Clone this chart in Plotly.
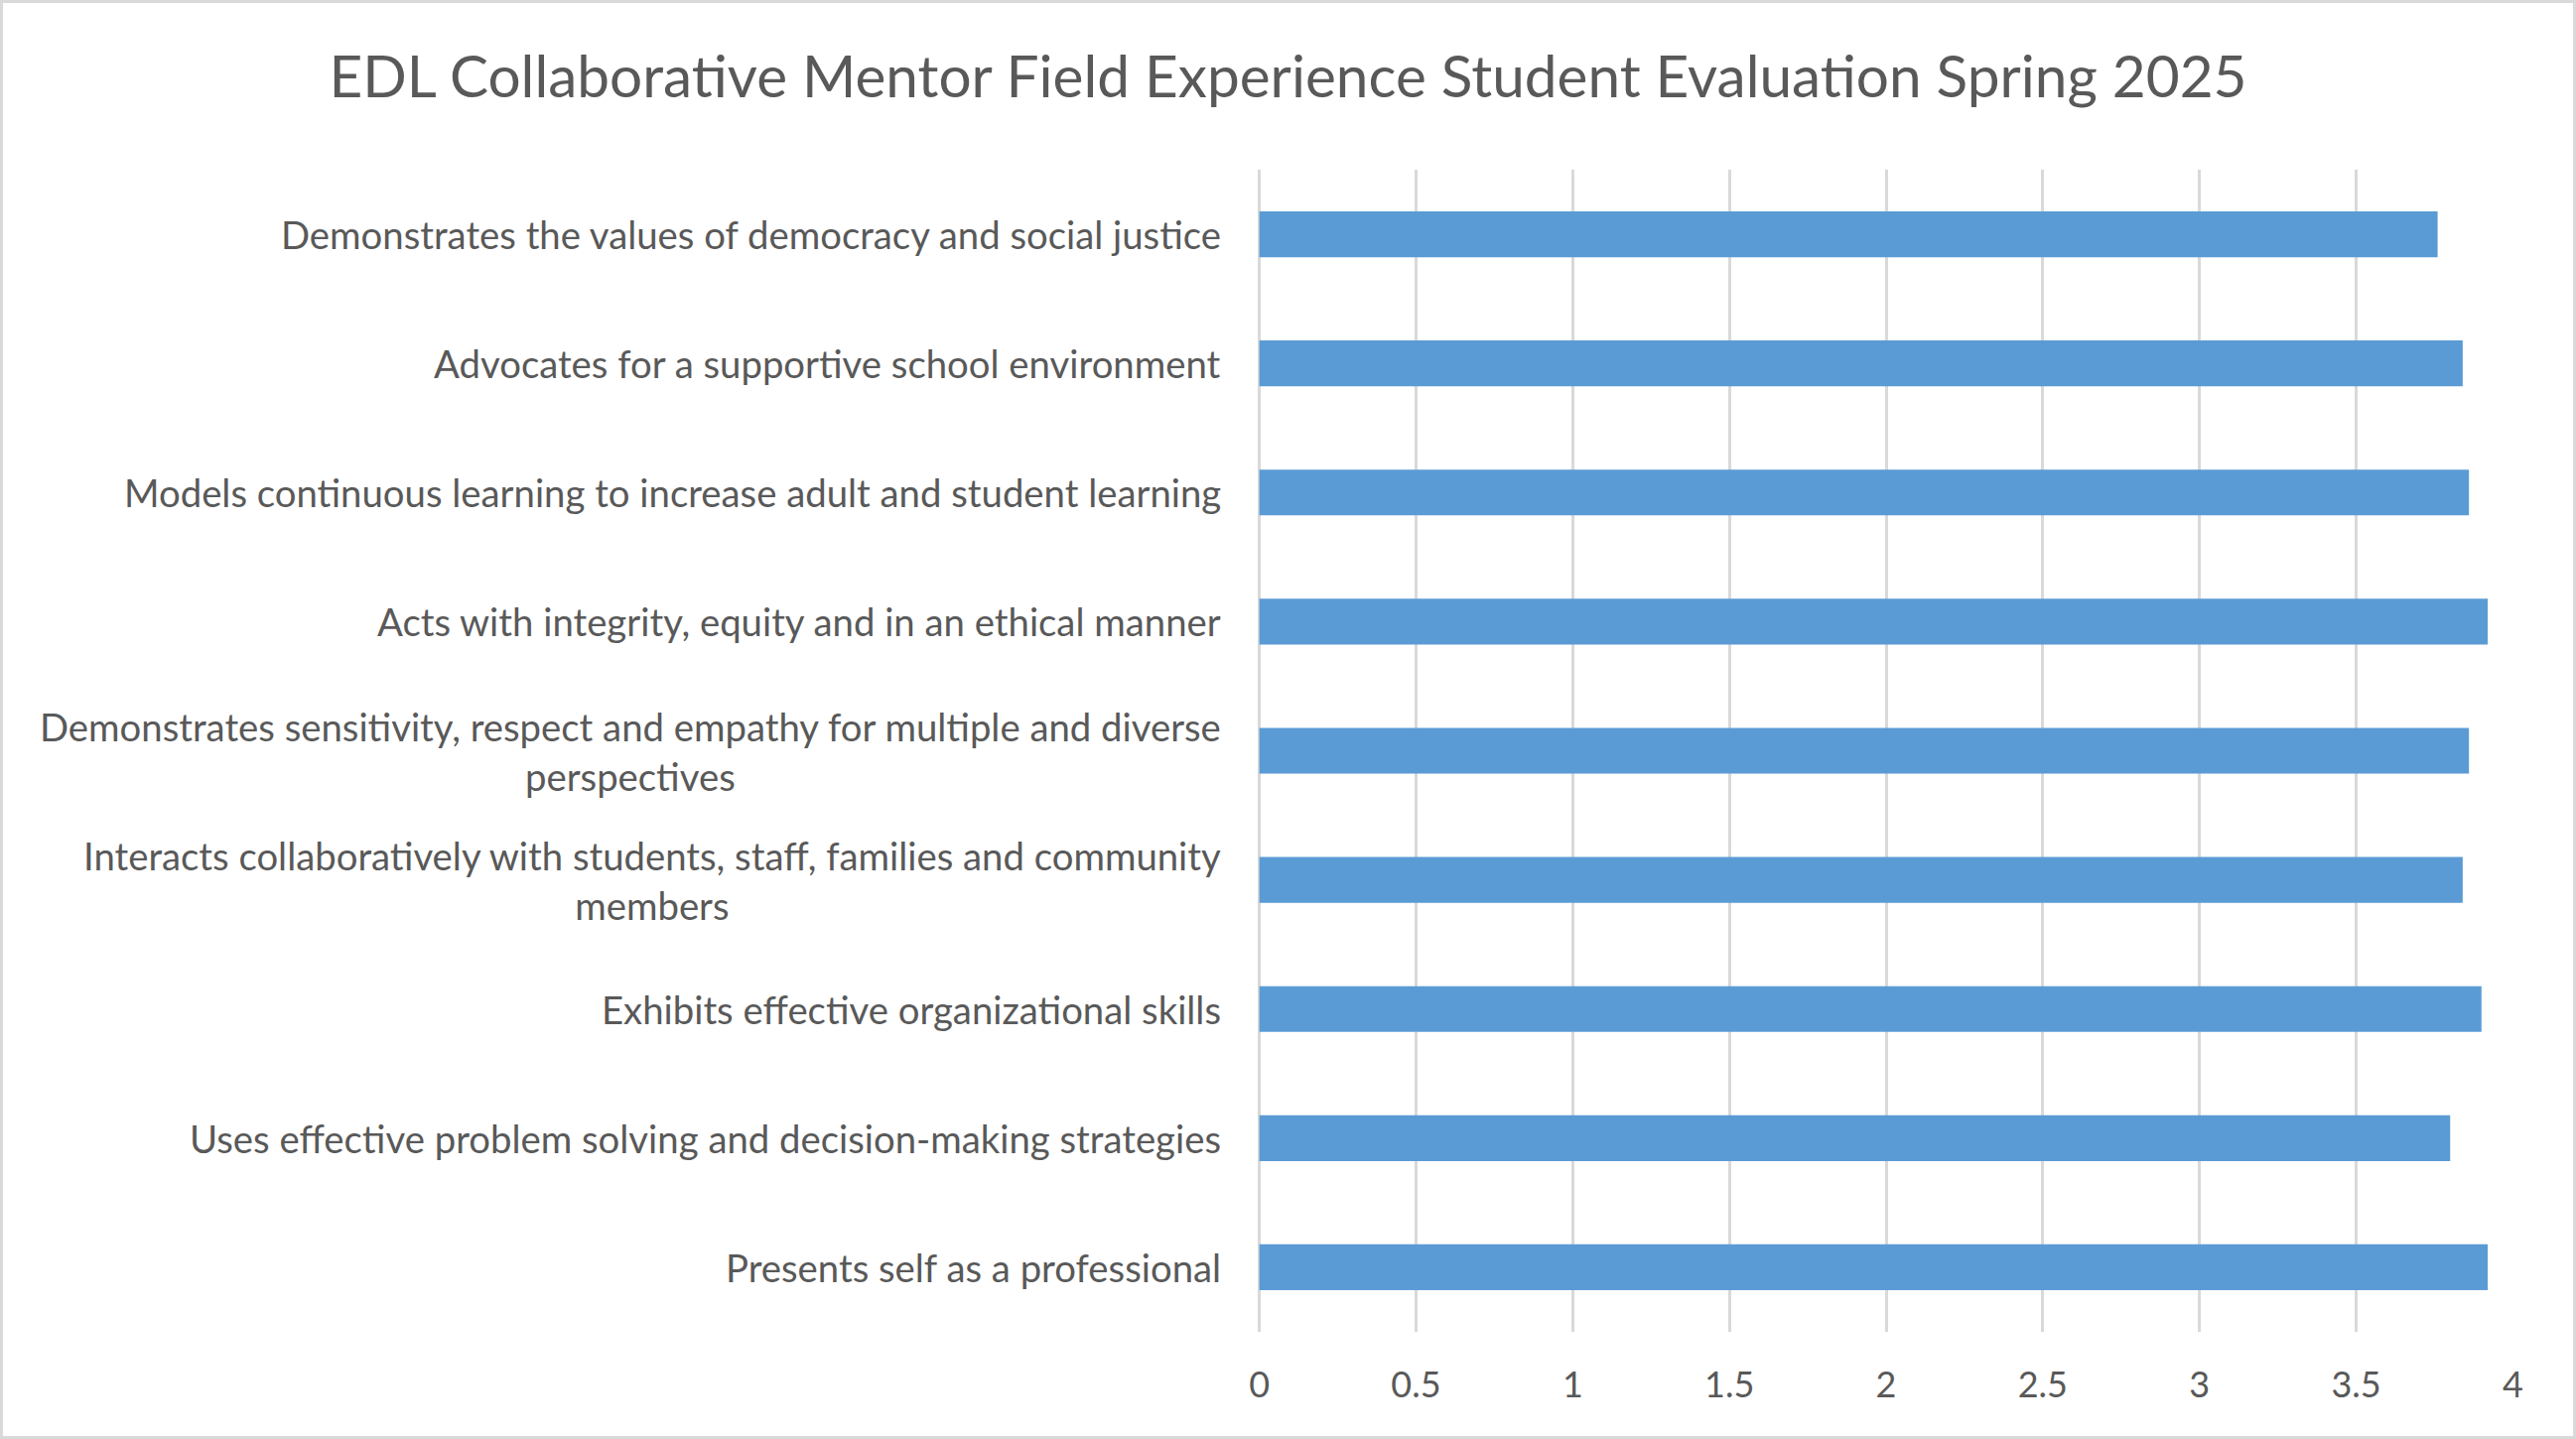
import plotly.graph_objects as go

categories = [
    "Demonstrates the values of democracy and social justice",
    "Advocates for a supportive school environment",
    "Models continuous learning to increase adult and student learning",
    "Acts with integrity, equity and in an ethical manner",
    "Demonstrates sensitivity, respect and empathy for multiple and diverse<br>perspectives",
    "Interacts collaboratively with students, staff, families and community<br>members",
    "Exhibits effective organizational skills",
    "Uses effective problem solving and decision-making strategies",
    "Presents self as a professional",
]
scores = [3.76, 3.84, 3.86, 3.92, 3.86, 3.84, 3.90, 3.80, 3.92]
x_ticks = [0, 0.5, 1, 1.5, 2, 2.5, 3, 3.5, 4]
x_tick_labels = ["0", "0.5", "1", "1.5", "2", "2.5", "3", "3.5", "4"]
title_text = "EDL Collaborative Mentor Field Experience Student Evaluation Spring 2025"

W, H = 2595, 1450
L, R, T, B = 1268, 63, 171, 108
PW, PH = W - L - R, H - T - B

FONT = "Lato"
GREY = "#595959"
GRID = "#D9D9D9"

fig = go.Figure(go.Bar(
    x=scores, y=categories, orientation="h",
    marker=dict(color="#5B9BD5", line=dict(width=0)),
    width=0.355,
))

annotations = [
    dict(text=c, x=0, y=c, xref="paper", yref="y", xanchor="right", yanchor="middle",
         align="center", showarrow=False, xshift=-36,
         font=dict(family=FONT, size=38.3, color=GREY))
    for c in categories
]

fig.update_layout(
    width=W, height=H,
    margin=dict(l=L, r=R, t=T, b=B, autoexpand=False),
    paper_bgcolor="white", plot_bgcolor="white",
    showlegend=False,
    title=dict(text=title_text, x=0.5, xanchor="center", xref="container",
               y=1 - 78 / H, yanchor="middle", yref="container",
               font=dict(family=FONT, size=58.5, color=GREY)),
    xaxis=dict(range=[-0.002, 4.002], tickvals=x_ticks, ticktext=x_tick_labels,
               showgrid=True, gridcolor=GRID, gridwidth=2.5,
               zeroline=True, zerolinecolor=GRID, zerolinewidth=2.5, showline=False,
               ticks="outside", ticklen=22, tickcolor="rgba(0,0,0,0)",
               tickfont=dict(family=FONT, size=36, color=GREY), fixedrange=True),
    yaxis=dict(autorange="reversed", showticklabels=False, showgrid=False,
               zeroline=False, showline=False, ticks=""),
    annotations=annotations,
    shapes=[dict(type="rect", xref="paper", yref="paper",
                 x0=(1.5 - L) / PW, x1=(W - 1.5 - L) / PW,
                 y0=-(B - 1.5) / PH, y1=1 + (T - 1.5) / PH,
                 line=dict(color=GRID, width=3), fillcolor="rgba(0,0,0,0)",
                 layer="below")],
)

fig.write_html("out.html")
